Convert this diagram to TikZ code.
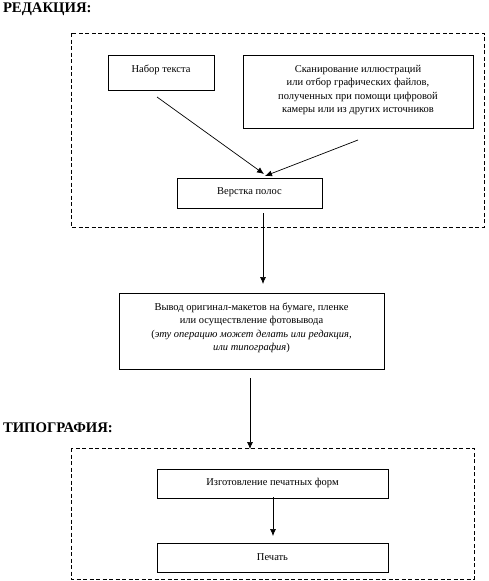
\documentclass[tikz,border=0pt]{standalone}
\usepackage{fontspec}
\setmainfont{Liberation Serif}
\usetikzlibrary{arrows.meta}
\begin{document}
\begin{tikzpicture}[x=1pt,y=-1pt,
  every node/.style={inner sep=0pt,outer sep=0pt},
  blk/.style={draw,line width=0.7pt,fill=white},
  txt/.style={font=\fontsize{10.5}{13.5}\selectfont,align=center},
  head/.style={font=\bfseries\fontsize{14.7}{16}\selectfont,anchor=west},
  grp/.style={draw,dashed,line width=0.7pt,dash pattern=on 4pt off 2.5pt},
  arr/.style={-{Latex[length=7pt,width=6pt]},line width=0.7pt}]
\useasboundingbox (0,0) rectangle (489,581);
\node[head] (h1) at (3,9) {РЕДАКЦИЯ:};
\node[head] (h2) at (3,428) {ТИПОГРАФИЯ:};
\draw[grp] (71,33) rectangle (484,227);
\draw[grp] (71,448) rectangle (474,579);
\draw[blk] (108,55) rectangle (214,90);
\node[txt] (n1) at (161,70) {Набор текста};
\draw[blk] (243,55) rectangle (473,128);
\node[txt] (n2) at (358,90) {Сканирование иллюстраций\\или отбор графических файлов,\\полученных при помощи цифровой\\камеры или из других источников};
\draw[blk] (177,178) rectangle (322,208);
\node[txt] (n3) at (249.5,192) {Верстка полос};
\draw[blk] (119,293) rectangle (384,369);
\node[txt] (n4) at (251.5,328) {Вывод оригинал-макетов на бумаге, пленке\\или осуществление фотовывода\\(\textit{эту операцию может делать или редакция,}\\\textit{или типография})};
\draw[blk] (157,469) rectangle (388,498);
\node[txt] (n5) at (272.5,483) {Изготовление печатных форм};
\draw[blk] (157,543) rectangle (388,572);
\node[txt] (n6) at (272.5,557) {Печать};
\coordinate (a1s) at (157,97);
\coordinate (a1e) at (264,174);
\coordinate (a2s) at (358,140);
\coordinate (a2e) at (265,176);
\coordinate (a3s) at (263,213);
\coordinate (a3e) at (263,284);
\coordinate (a4s) at (250,378);
\coordinate (a4e) at (250,449);
\coordinate (a5s) at (273,497);
\coordinate (a5e) at (273,536);
\draw[arr] (a1s) -- (a1e);
\draw[arr] (a2s) -- (a2e);
\draw[arr] (a3s) -- (a3e);
\draw[arr] (a4s) -- (a4e);
\draw[arr] (a5s) -- (a5e);
\end{tikzpicture}
\end{document}
